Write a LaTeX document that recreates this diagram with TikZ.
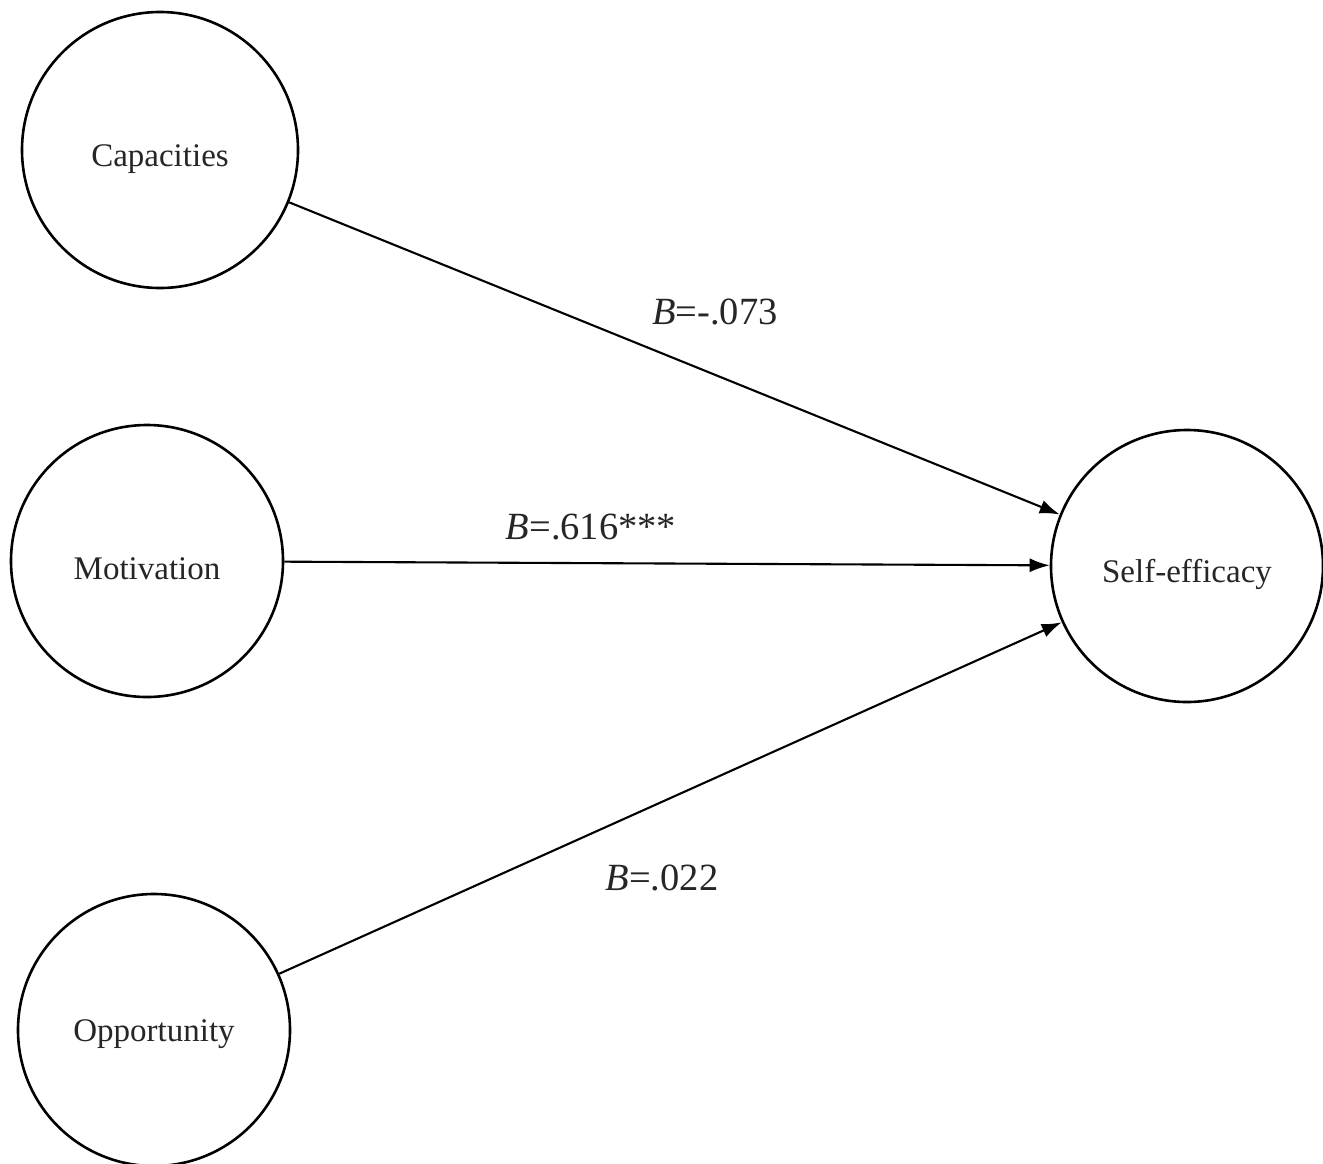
\documentclass[tikz,border=0pt]{standalone}
\usepackage{fontspec}
\setmainfont{Liberation Serif}
\usetikzlibrary{arrows.meta}
\begin{document}
\begin{tikzpicture}[x=1pt,y=-1pt,
  latent/.style={circle,draw,line width=2.6pt,minimum size=272pt,inner sep=0pt,font=\fontsize{33}{38}\selectfont,text=black!85,yshift=0pt},
  lbl/.style={font=\fontsize{33}{38}\selectfont,text=black!85,inner sep=0pt},
  path/.style={line width=2.1pt,-{Latex[length=20pt,width=14pt]}},
  coef/.style={font=\fontsize{38.5}{44}\selectfont,text=black!85}]
\useasboundingbox (0,0) rectangle (1323,1163);
\clip (0,0) rectangle (1323,1163);
\fill[white] (0,0) rectangle (1323,1163);
\node[latent,minimum size=276pt,label={[lbl,yshift=-9pt]center:Capacities}] (cap) at (160,150) {};
\node[latent,label={[lbl,yshift=-8pt]center:Motivation}] (mot) at (147,561) {};
\node[latent,label={[lbl,yshift=-4pt]center:Opportunity}] (opp) at (154,1030) {};
\node[latent,label={[lbl,yshift=-8pt]center:Self-efficacy}] (se) at (1187,566) {};
\draw[path] (cap) -- (se);
\draw[path] (mot) -- (se);
\draw[path] (opp) -- (se);
\node[coef] (l1) at (715,312) {\textit{B}=-.073};
\node[coef] (l2) at (591,527) {\textit{B}=.616***};
\node[coef] (l3) at (662,878) {\textit{B}=.022};
\end{tikzpicture}
\end{document}
